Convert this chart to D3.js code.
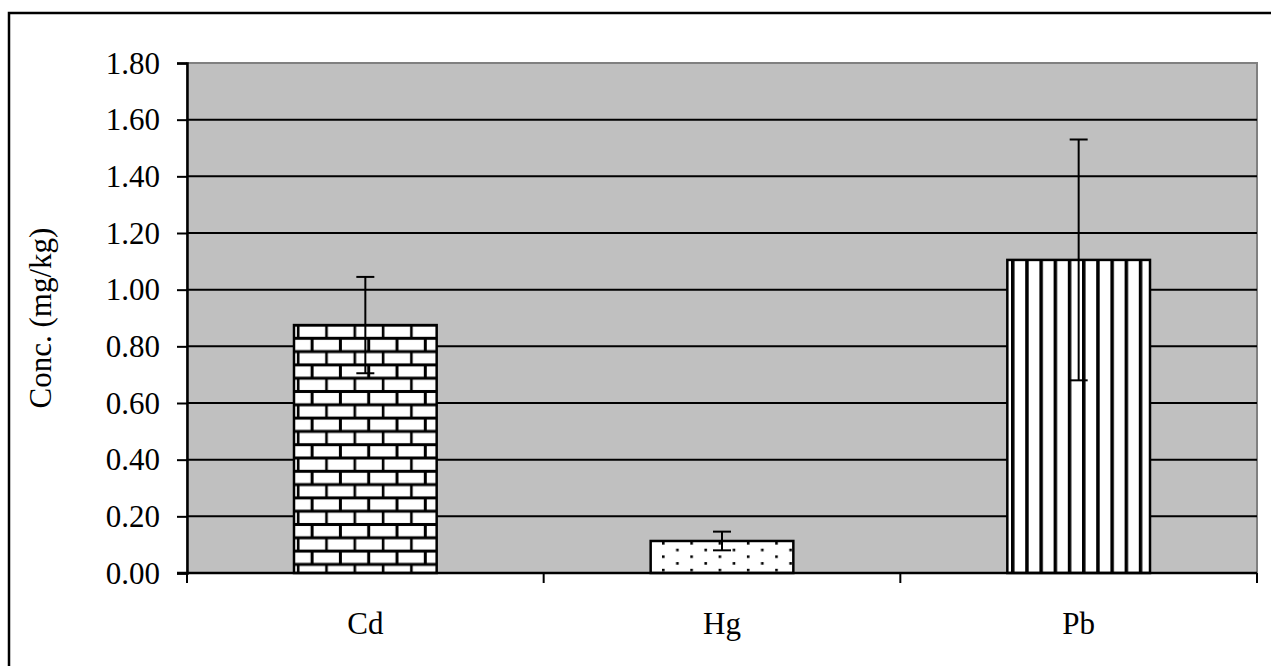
<!DOCTYPE html>
<html>
<head>
<meta charset="utf-8">
<script src="https://cdn.jsdelivr.net/npm/d3@7"></script>
<style>
  body { margin: 0; background: #fff; }
  svg text { font-family: "Liberation Serif", "Times New Roman", serif; fill: #000; }
</style>
</head>
<body>
<div id="chart"></div>
<script>
// dati
var categories = ["Cd", "Hg", "Pb"];
var means = [0.875, 0.113, 1.105];
var errors = [0.17, 0.033, 0.425];
var patterns = ["brick", "dots", "vlines"];
var yTicks = [0, 0.2, 0.4, 0.6, 0.8, 1.0, 1.2, 1.4, 1.6, 1.8];
var yTitle = "Conc. (mg/kg)";

var width = 1271, height = 666;
var pLeft = 187, pRight = 1257, pTop = 63, pBottom = 573;
var fontSize = "31px";

var svg = d3.select("#chart").append("svg")
  .attr("width", width)
  .attr("height", height);

// pattern per le barre
var defs = svg.append("defs");

var brick = defs.append("pattern")
  .attr("id", "brick")
  .attr("patternUnits", "userSpaceOnUse")
  .attr("width", 28.3).attr("height", 26.6)
  .attr("x", 298).attr("y", 325);
brick.append("rect").attr("width", 28.3).attr("height", 26.6).attr("fill", "#fff");
brick.append("rect").attr("x", 0).attr("y", -1.5).attr("width", 28.3).attr("height", 3).attr("fill", "#000");
brick.append("rect").attr("x", 0).attr("y", 11.8).attr("width", 28.3).attr("height", 3).attr("fill", "#000");
brick.append("rect").attr("x", 0).attr("y", 25.1).attr("width", 28.3).attr("height", 3).attr("fill", "#000");
brick.append("rect").attr("x", 27.2).attr("y", 0).attr("width", 3).attr("height", 13.3).attr("fill", "#000");
brick.append("rect").attr("x", -1.5).attr("y", 0).attr("width", 3).attr("height", 13.3).attr("fill", "#000");
brick.append("rect").attr("x", 12.6).attr("y", 13.3).attr("width", 3).attr("height", 13.3).attr("fill", "#000");

var dots = defs.append("pattern")
  .attr("id", "dots")
  .attr("patternUnits", "userSpaceOnUse")
  .attr("width", 28.3).attr("height", 13.4)
  .attr("x", 662).attr("y", 542);
dots.append("rect").attr("width", 28.3).attr("height", 13.4).attr("fill", "#fff");
dots.append("rect").attr("x", 0).attr("y", 0).attr("width", 2.6).attr("height", 2.6).attr("fill", "#000");
dots.append("rect").attr("x", 14.1).attr("y", 6.7).attr("width", 2.6).attr("height", 2.6).attr("fill", "#000");

var vlines = defs.append("pattern")
  .attr("id", "vlines")
  .attr("patternUnits", "userSpaceOnUse")
  .attr("width", 14.2).attr("height", 20)
  .attr("x", 1011).attr("y", 0);
vlines.append("rect").attr("width", 14.2).attr("height", 20).attr("fill", "#fff");
vlines.append("rect").attr("x", 0).attr("width", 3.5).attr("height", 20).attr("fill", "#000");

// cornice esterna
svg.append("rect")
  .attr("x", 9).attr("y", 13)
  .attr("width", 1400).attr("height", 800)
  .attr("fill", "none")
  .attr("stroke", "#000")
  .attr("stroke-width", 2.5);

var x = d3.scaleBand()
  .domain(categories)
  .range([pLeft, pRight])
  .paddingInner(0.6)
  .paddingOuter(0.3);

var y = d3.scaleLinear()
  .domain([0, 1.8])
  .range([pBottom, pTop]);

// area del grafico
svg.append("rect")
  .attr("x", pLeft).attr("y", pTop)
  .attr("width", pRight - pLeft).attr("height", pBottom - pTop)
  .attr("fill", "#c0c0c0")
  .attr("stroke", "#808080")
  .attr("stroke-width", 2);

// griglia
svg.selectAll(".grid")
  .data(yTicks.slice(1, -1))
  .enter().append("line")
  .attr("x1", pLeft).attr("x2", pRight)
  .attr("y1", function(d) { return y(d); })
  .attr("y2", function(d) { return y(d); })
  .attr("stroke", "#000")
  .attr("stroke-width", 2);

// barre
svg.selectAll(".bar")
  .data(categories)
  .enter().append("rect")
  .attr("x", function(d) { return x(d); })
  .attr("y", function(d, i) { return y(means[i]); })
  .attr("width", x.bandwidth())
  .attr("height", function(d, i) { return y(0) - y(means[i]); })
  .attr("fill", function(d, i) { return "url(#" + patterns[i] + ")"; })
  .attr("stroke", "#000")
  .attr("stroke-width", 2.5);

// barre di errore
var err = svg.selectAll(".err")
  .data(categories)
  .enter().append("g")
  .attr("transform", function(d) { return "translate(" + (x(d) + x.bandwidth() / 2) + ",0)"; });

err.append("line")
  .attr("x1", 0).attr("x2", 0)
  .attr("y1", function(d, i) { return y(means[i] - errors[i]); })
  .attr("y2", function(d, i) { return y(means[i] + errors[i]); })
  .attr("stroke", "#000").attr("stroke-width", 2);

err.append("line")
  .attr("x1", -9).attr("x2", 9)
  .attr("y1", function(d, i) { return y(means[i] + errors[i]); })
  .attr("y2", function(d, i) { return y(means[i] + errors[i]); })
  .attr("stroke", "#000").attr("stroke-width", 2);

err.append("line")
  .attr("x1", -9).attr("x2", 9)
  .attr("y1", function(d, i) { return y(means[i] - errors[i]); })
  .attr("y2", function(d, i) { return y(means[i] - errors[i]); })
  .attr("stroke", "#000").attr("stroke-width", 2);

// asse y
var yAxis = svg.append("g")
  .attr("transform", "translate(" + pLeft + ",0)")
  .call(d3.axisLeft(y).tickValues(yTicks).tickFormat(d3.format(".2f")).tickSize(10).tickPadding(17));
yAxis.select(".domain").attr("stroke", "#000").attr("stroke-width", 2.5);
yAxis.selectAll(".tick line").attr("stroke", "#000").attr("stroke-width", 2);
yAxis.selectAll(".tick text")
  .style("font-family", "Liberation Serif")
  .style("font-size", fontSize)
  .attr("dy", "0.33em");

// asse x
svg.append("line")
  .attr("x1", pLeft - 10).attr("x2", pRight)
  .attr("y1", pBottom).attr("y2", pBottom)
  .attr("stroke", "#000").attr("stroke-width", 2.5);

var bounds = d3.range(categories.length + 1).map(function(i) { return pLeft + i * x.step(); });
svg.selectAll(".xtick")
  .data(bounds)
  .enter().append("line")
  .attr("x1", function(d) { return d; }).attr("x2", function(d) { return d; })
  .attr("y1", pBottom).attr("y2", pBottom + 10)
  .attr("stroke", "#000").attr("stroke-width", 2);

svg.selectAll(".xlab")
  .data(categories)
  .enter().append("text")
  .attr("x", function(d) { return x(d) + x.bandwidth() / 2; })
  .attr("y", 634)
  .attr("text-anchor", "middle")
  .style("font-size", fontSize)
  .text(function(d) { return d; });

// titolo asse y
svg.append("text")
  .attr("transform", "translate(51," + ((pTop + pBottom) / 2) + ") rotate(-90)")
  .attr("text-anchor", "middle")
  .style("font-size", fontSize)
  .text(yTitle);
</script>
</body>
</html>
